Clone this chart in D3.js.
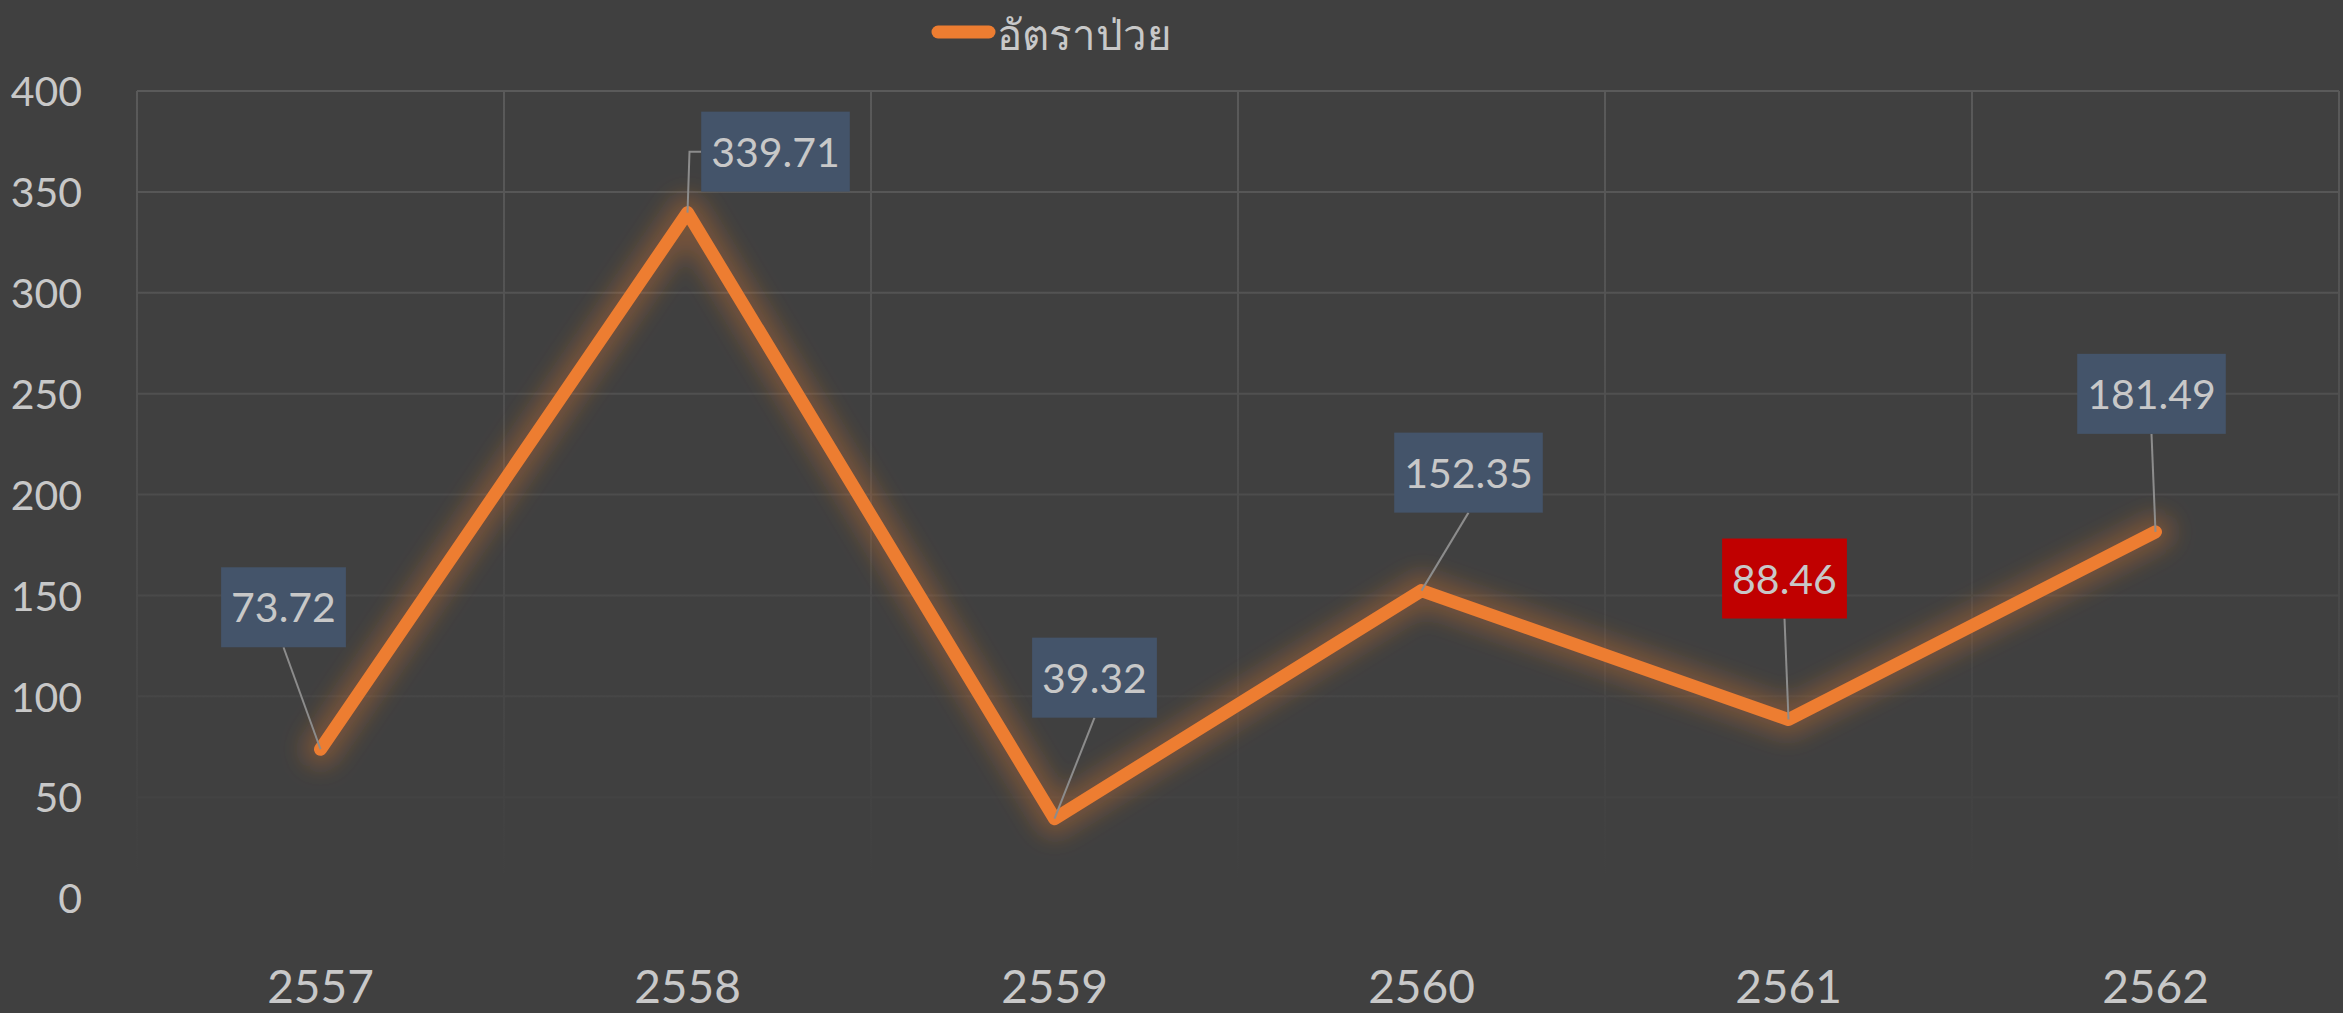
<!DOCTYPE html>
<html>
<head>
<meta charset="utf-8">
<script src="https://cdn.jsdelivr.net/npm/d3@7"></script>
<style>
  body { margin: 0; background: #404040; overflow: hidden; }
  text { font-family: Lato, "Noto Sans", sans-serif; fill: #c8c8c8; }
</style>
</head>
<body>
<svg id="chart" width="2343" height="1013"></svg>
<script>
// data
const years = ["2557", "2558", "2559", "2560", "2561", "2562"];
const rates = [73.72, 339.71, 39.32, 152.35, 88.46, 181.49];
const yTicks = [0, 50, 100, 150, 200, 250, 300, 350, 400];
const seriesName = "อัตราป่วย";
const highlightYear = "2561";

// label box offsets from its point (px), like the hand-placed excel labels
const labelOffsets = [[-37, -142], [88, -61], [40, -141], [47, -118], [-4, -141], [-4, -138]];

const W = 2343, H = 1013;
const plot = {left: 137, right: 2339, top: 91, bottom: 898};

const svg = d3.select("#chart");
const defs = svg.append("defs");

// gridlines fade out towards the bottom
const grad = defs.append("linearGradient")
    .attr("id", "gridFade")
    .attr("gradientUnits", "userSpaceOnUse")
    .attr("x1", 0).attr("x2", 0)
    .attr("y1", plot.top).attr("y2", 880);
grad.append("stop").attr("offset", 0).attr("stop-color", "#5a5a5a");
grad.append("stop").attr("offset", 1).attr("stop-color", "#404040");

const glow = defs.append("filter").attr("id", "glow")
    .attr("x", "-20%").attr("y", "-20%").attr("width", "140%").attr("height", "140%");
glow.append("feGaussianBlur").attr("stdDeviation", 11);

const x = d3.scaleBand().domain(years).range([plot.left, plot.right]);
const y = d3.scaleLinear().domain([0, 400]).range([plot.bottom, plot.top]);
const cx = d => x(d) + x.bandwidth() / 2;

// horizontal grid (no line at 0)
svg.append("g").selectAll("line")
  .data(yTicks.filter(t => t > 0))
  .join("line")
    .attr("x1", plot.left).attr("x2", plot.right)
    .attr("y1", d => y(d)).attr("y2", d => y(d))
    .attr("stroke", "url(#gridFade)")
    .attr("stroke-width", 2);

// vertical grid at band edges
const edges = years.map(d => x(d)).concat([plot.right]);
svg.append("g").selectAll("line")
  .data(edges)
  .join("line")
    .attr("x1", d => d).attr("x2", d => d)
    .attr("y1", plot.top).attr("y2", plot.bottom)
    .attr("stroke", "url(#gridFade)")
    .attr("stroke-width", 2);

// y axis labels
const yAxis = d3.axisLeft(y).tickValues(yTicks).tickSize(0).tickPadding(0);
const gy = svg.append("g").attr("transform", "translate(82,0)").call(yAxis);
gy.select(".domain").remove();
gy.selectAll("text")
    .attr("font-size", 41)
    .attr("dy", "0.36em")
    .style("fill", "#c8c8c8")
    .style("font-family", "Lato, 'Noto Sans', sans-serif");

// x axis labels
const xAxis = d3.axisBottom(x).tickSize(0).tickPadding(0);
const gx = svg.append("g").attr("transform", "translate(0,1003)").call(xAxis);
gx.select(".domain").remove();
gx.selectAll("text")
    .attr("y", 0).attr("dy", 0)
    .attr("font-size", 46)
    .style("fill", "#c8c8c8")
    .style("font-family", "Lato, 'Noto Sans', sans-serif");

const pts = years.map((d, i) => ({year: d, value: rates[i], px: cx(d), py: y(rates[i])}));

const line = d3.line().x(d => d.px).y(d => d.py);

// soft glow under the line
svg.append("path")
    .datum(pts)
    .attr("d", line)
    .attr("fill", "none")
    .attr("stroke", "#ED7D31")
    .attr("stroke-opacity", 0.3)
    .attr("stroke-width", 36)
    .attr("stroke-linejoin", "round")
    .attr("stroke-linecap", "round")
    .attr("filter", "url(#glow)");

svg.append("path")
    .datum(pts)
    .attr("d", line)
    .attr("fill", "none")
    .attr("stroke", "#ED7D31")
    .attr("stroke-width", 13)
    .attr("stroke-linejoin", "round")
    .attr("stroke-linecap", "round");

// data labels with leader lines
const labelG = svg.append("g");
pts.forEach((p, i) => {
  const [ox, oy] = labelOffsets[i];
  const bx = p.px + ox, by = p.py + oy;
  const g = labelG.append("g");
  const txt = g.append("text")
      .attr("x", bx).attr("y", by + 15)
      .attr("text-anchor", "middle")
      .attr("font-size", 41)
      .text(d3.format(".2f")(p.value));
  const tw = txt.node().getComputedTextLength();
  const bw = tw + 20, bh = 80;
  g.insert("rect", "text")
      .attr("x", bx - bw / 2).attr("y", by - bh / 2)
      .attr("width", bw).attr("height", bh)
      .attr("fill", p.year === highlightYear ? "#C00000" : "#44546A");

  let leader;
  if (Math.abs(ox) > bw / 2) {
    // box sits beside the point: elbow to its side
    const side = ox > 0 ? bx - bw / 2 : bx + bw / 2;
    leader = `M${p.px},${p.py} L${p.px + 2},${by} L${side},${by}`;
  } else {
    leader = `M${p.px},${p.py} L${bx},${by + bh / 2}`;
  }
  labelG.insert("path", ":first-child")
      .attr("d", leader)
      .attr("fill", "none")
      .attr("stroke", "#8c8c8c")
      .attr("stroke-width", 2);
});

// legend
const leg = svg.append("g");
leg.append("line")
    .attr("x1", 938).attr("x2", 989)
    .attr("y1", 32).attr("y2", 32)
    .attr("stroke", "#ED7D31")
    .attr("stroke-width", 13)
    .attr("stroke-linecap", "round");
leg.append("text")
    .attr("x", 997).attr("y", 50)
    .attr("font-size", 42)
    .text(seriesName);
</script>
</body>
</html>
